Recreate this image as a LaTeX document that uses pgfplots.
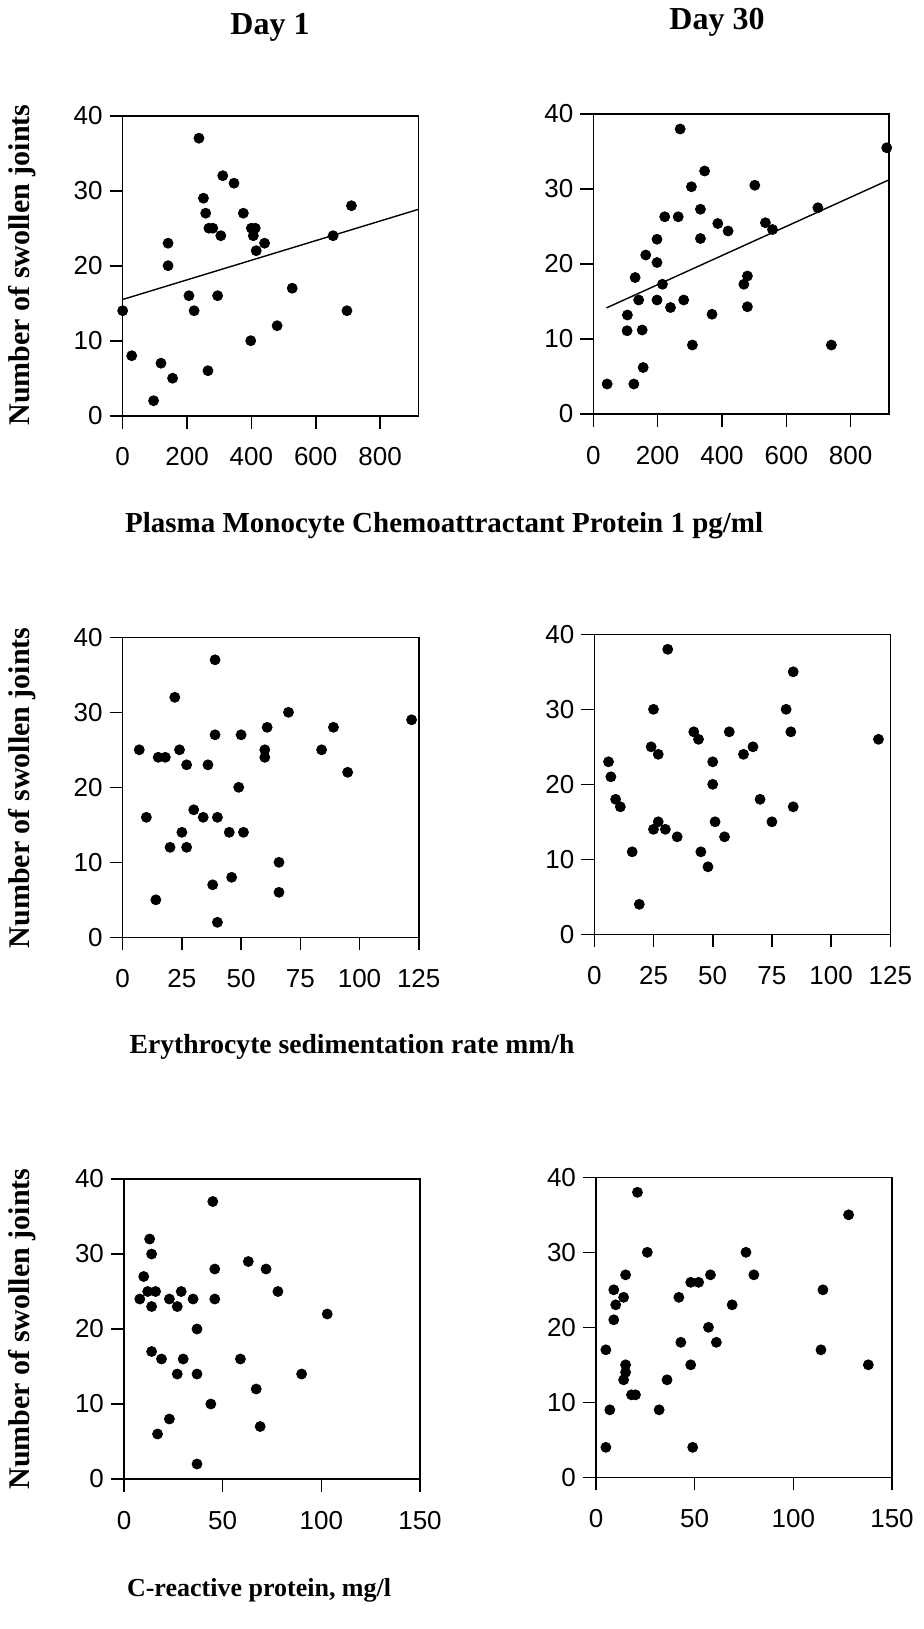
\documentclass[border=0pt]{standalone}
\usepackage{fontspec}
\setmainfont{Liberation Sans}
\newfontfamily\tnr{Liberation Serif}
\usepackage{pgfplots}
\pgfplotsset{compat=1.18}

\pgfplotsset{
  panel/.style={
    scale only axis,
    width=148pt, height=150pt,
    anchor=north west,
    ymin=0, ymax=40,
    ytick={0,10,20,30,40},
    enlargelimits=false,
    axis line style={line width=0.8pt},
    tick style={line width=0.8pt, black},
    tick pos=left,
    tick align=outside,
    major tick length=6.5pt,
    /pgf/number format/assume math mode=true,
    ticklabel style={font=\fontsize{13}{13}\selectfont},
    xticklabel style={yshift=-6pt},
    clip=false,
  },
  dots/.style={only marks, mark=*, mark size=2.5pt, color=black},
  fit/.style={no marks, line width=0.7pt, color=black},
}

\begin{document}
\begin{tikzpicture}
\path[use as bounding box] (0,0) rectangle (461.5pt,-814.5pt);

% column titles
\node[anchor=base, font=\tnr\bfseries\fontsize{16}{16}\selectfont] at (135pt,-17pt) {Day 1};
\node[anchor=base, font=\tnr\bfseries\fontsize{16}{16}\selectfont] at (358.5pt,-14.6pt) {Day 30};

% y labels
\foreach \yc in {-132.5,-393.9,-664.5}
  \node[rotate=90, font=\tnr\bfseries\fontsize{15}{15}\selectfont] at (11pt,\yc pt) {Number of swollen joints};

% x labels
\node[anchor=base west, font=\tnr\bfseries\fontsize{14.5}{14.5}\selectfont] at (59pt,-266pt) {Plasma Monocyte Chemoattractant Protein 1 pg/ml};
\node[anchor=base west, font=\tnr\bfseries\fontsize{13.8}{13.8}\selectfont] at (61.3pt,-526.5pt) {Erythrocyte sedimentation rate mm/h};
\node[anchor=base west, font=\tnr\bfseries\fontsize{13}{13}\selectfont] at (60pt,-798pt) {C-reactive protein, mg/l};

% MCP-1, day 1
\begin{axis}[panel, at={(61.35pt,-57.85pt)}, xmin=0, xmax=920, xtick={0,200,400,600,800}]
\addplot[dots] coordinates {
(237,37) (311,32) (346,31) (251,29) (258,27) (375,27) (711,28)
(268,25) (280,25) (305,24) (400,25) (412,25) (406,24) (441,23)
(415,22) (141,23) (141,20) (654,24) (527,17) (206,16) (295,16)
(222,14) (0,14) (697,14) (480,12) (398,10) (28,8) (119,7)
(155,5) (265,6) (96,2)
};
\addplot[fit] coordinates {(0,15.5) (918,27.5)};
\end{axis}

% MCP-1, day 30
\begin{axis}[panel, at={(296.65pt,-57pt)}, xmin=0, xmax=920, xtick={0,200,400,600,800}]
\addplot[dots] coordinates {
(270,38) (912,35.5) (346,32.4) (305,30.3) (502,30.5) (333,27.3) (698,27.5)
(222,26.3) (264,26.3) (387,25.4) (419,24.4) (535,25.5) (557,24.6) (198,23.3)
(333,23.4) (163,21.2) (198,20.2) (130,18.2) (479,18.4) (468,17.3) (215,17.3)
(141,15.2) (198,15.2) (281,15.2) (240,14.2) (479,14.3) (106,13.2) (369,13.3)
(105,11.1) (152,11.2) (308,9.2) (740,9.2) (155,6.2) (43,4) (126,4)
};
\addplot[fit] coordinates {(41,14.15) (918,31.2)};
\end{axis}

% ESR, day 1
\begin{axis}[panel, at={(61.35pt,-318.65pt)}, xmin=0, xmax=125, xtick={0,25,50,75,100,125}]
\addplot[dots] coordinates {
(39,37) (22,32) (70,30) (122,29) (61,28) (89,28) (39,27) (50,27)
(7,25) (24,25) (60,25) (84,25) (15,24) (18,24) (60,24) (27,23)
(36,23) (95,22) (49,20) (30,17) (34,16) (10,16) (40,16) (25,14)
(45,14) (51,14) (20,12) (27,12) (66,10) (46,8) (38,7) (14,5)
(66,6) (40,2)
};
\end{axis}

% ESR, day 30
\begin{axis}[panel, at={(297.15pt,-317.15pt)}, xmin=0, xmax=125, xtick={0,25,50,75,100,125}]
\addplot[dots] coordinates {
(31,38) (84,35) (25,30) (81,30) (42,27) (57,27) (83,27) (44,26)
(120,26) (24,25) (67,25) (27,24) (63,24) (6,23) (50,23) (7,21)
(50,20) (9,18) (70,18) (11,17) (84,17) (27,15) (51,15) (75,15)
(25,14) (30,14) (35,13) (55,13) (16,11) (45,11) (48,9) (19,4)
};
\end{axis}

% CRP, day 1
\begin{axis}[panel, at={(62pt,-589.5pt)}, xmin=0, xmax=150, xtick={0,50,100,150}]
\addplot[dots] coordinates {
(45,37) (13,32) (14,30) (63,29) (46,28) (72,28) (10,27) (12,25)
(16,25) (29,25) (78,25) (8,24) (23,24) (35,24) (46,24) (14,23)
(27,23) (103,22) (37,20) (14,17) (19,16) (30,16) (59,16) (27,14)
(37,14) (90,14) (67,12) (44,10) (23,8) (69,7) (17,6) (37,2)
};
\end{axis}

% CRP, day 30
\begin{axis}[panel, at={(298pt,-588.65pt)}, xmin=0, xmax=150, xtick={0,50,100,150}]
\addplot[dots] coordinates {
(21,38) (128,35) (26,30) (76,30) (15,27) (58,27) (80,27) (48,26)
(52,26) (9,25) (115,25) (14,24) (42,24) (10,23) (69,23) (9,21)
(57,20) (43,18) (61,18) (5,17) (114,17) (15,15) (48,15) (138,15)
(15,14) (14,13) (36,13) (18,11) (20,11) (7,9) (32,9) (5,4) (49,4)
};
\end{axis}
\end{tikzpicture}
\end{document}
